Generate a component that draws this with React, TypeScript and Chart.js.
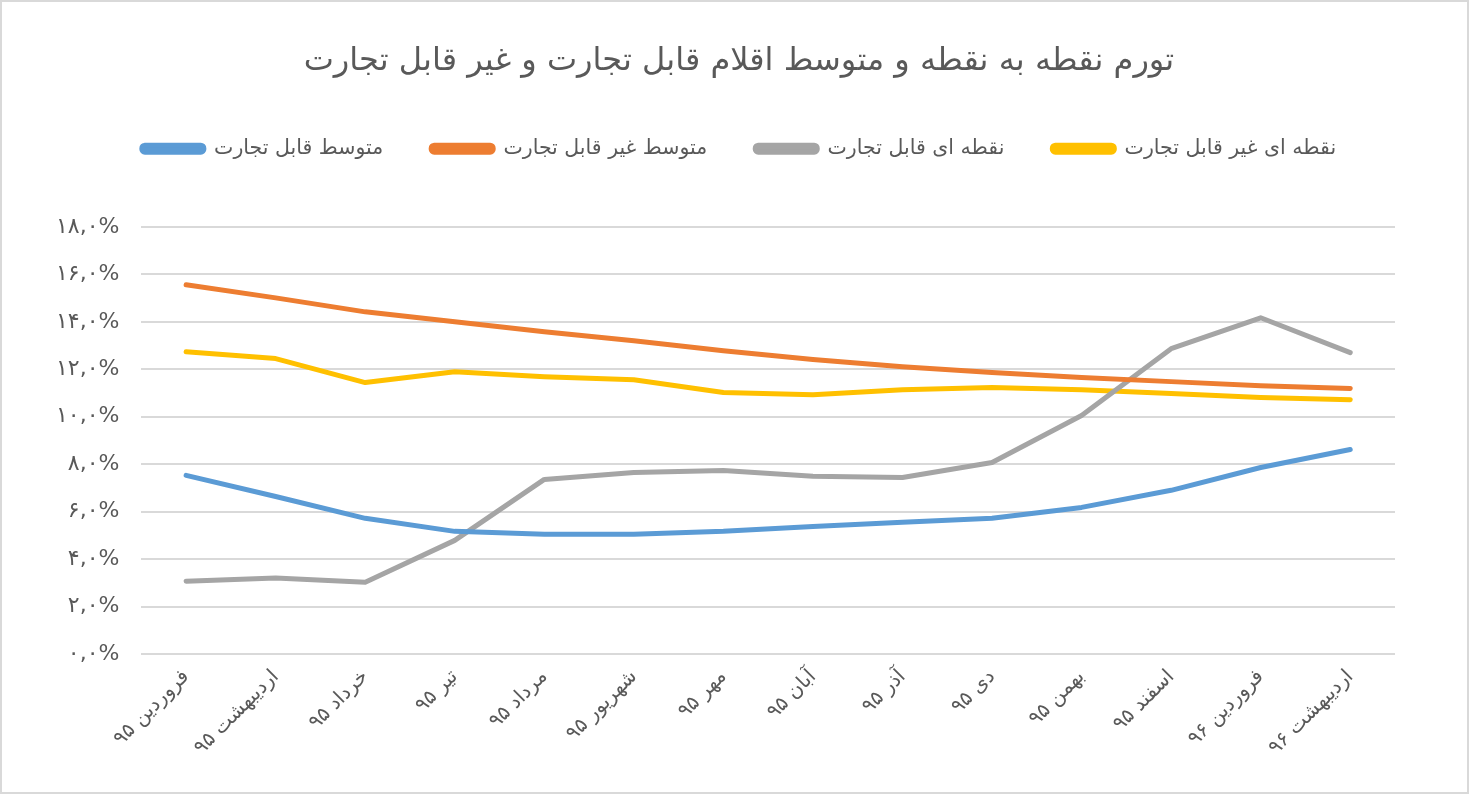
import React, { useEffect, useRef } from "react";
import { Chart, registerables } from "chart.js";

Chart.register(...registerables);

const categories = [
  "فروردین ۹۵",
  "اردیبهشت ۹۵",
  "خرداد ۹۵",
  "تیر ۹۵",
  "مرداد ۹۵",
  "شهریور ۹۵",
  "مهر ۹۵",
  "آبان ۹۵",
  "آذر ۹۵",
  "دی ۹۵",
  "بهمن ۹۵",
  "اسفند ۹۵",
  "فروردین ۹۶",
  "اردیبهشت ۹۶",
];

const avgTradable = [7.53, 6.64, 5.72, 5.17, 5.05, 5.05, 5.17, 5.38, 5.55, 5.72, 6.18, 6.9, 7.86, 8.62];
const avgNonTradable = [15.56, 15.01, 14.42, 14.0, 13.58, 13.2, 12.78, 12.41, 12.11, 11.86, 11.65, 11.48, 11.31, 11.19];
const p2pTradable = [3.07, 3.2, 3.03, 4.79, 7.36, 7.65, 7.74, 7.49, 7.44, 8.07, 10.05, 12.87, 14.17, 12.7];
const p2pNonTradable = [12.74, 12.45, 11.44, 11.9, 11.69, 11.56, 11.02, 10.93, 11.14, 11.23, 11.14, 10.98, 10.81, 10.72];

const seriesNames = [
  "متوسط قابل تجارت",
  "متوسط غیر قابل تجارت",
  "نقطه ای قابل تجارت",
  "نقطه ای غیر قابل تجارت",
];

const yTickLabels = ["۰,۰%", "۲,۰%", "۴,۰%", "۶,۰%", "۸,۰%", "۱۰,۰%", "۱۲,۰%", "۱۴,۰%", "۱۶,۰%", "۱۸,۰%"];

const title = "تورم نقطه به نقطه و متوسط اقلام قابل تجارت و غیر قابل تجارت";

const FONT = "'DejaVu Sans', 'Noto Sans', sans-serif";
const TEXT = "#595959";

const legendSpacer = {
  id: "legendSpacer",
  beforeInit(chart: any) {
    const legend = chart.legend;
    if (!legend) return;
    const origFit = legend.fit;
    legend.fit = function () {
      origFit.call(this);
      this.height += 58;
    };
  },
};

export default function App() {
  const ref = useRef<HTMLCanvasElement | null>(null);

  useEffect(() => {
    document.body.style.margin = "0";
    if (!ref.current) return;
    const colors = ["#5B9BD5", "#ED7D31", "#A5A5A5", "#FFC000"];
    const values = [avgTradable, avgNonTradable, p2pTradable, p2pNonTradable];
    const chart = new Chart(ref.current, {
      type: "line",
      data: {
        labels: categories,
        datasets: values.map((v, i) => ({
          label: seriesNames[i],
          data: v,
          borderColor: colors[i],
          backgroundColor: colors[i],
          borderWidth: 5,
          pointRadius: 0,
          tension: 0,
          borderCapStyle: "round" as const,
          borderJoinStyle: "round" as const,
        })),
      },
      plugins: [legendSpacer],
      options: {
        animation: false,
        responsive: false,
        maintainAspectRatio: false,
        layout: { padding: { left: 32, right: 23, top: 0, bottom: 29 } },
        plugins: {
          title: {
            display: true,
            text: title,
            color: TEXT,
            font: { family: FONT, size: 32, weight: "normal" },
            padding: { top: 40, bottom: 10 },
          },
          legend: {
            display: true,
            position: "top",
            labels: {
              color: TEXT,
              font: { family: FONT, size: 20.5 },
              boxWidth: 62,
              boxHeight: 7,
              useBorderRadius: true,
              borderRadius: 3,
              padding: 48,
            },
          },
          tooltip: { enabled: false },
        },
        scales: {
          x: {
            offset: true,
            grid: { display: false },
            border: { display: false },
            ticks: {
              color: TEXT,
              font: { family: FONT, size: 20 },
              minRotation: 45,
              maxRotation: 45,
              autoSkip: false,
            },
          },
          y: {
            min: 0,
            max: 18,
            grid: { color: "#D9D9D9", lineWidth: 2, drawTicks: false },
            border: { display: false },
            ticks: {
              stepSize: 2,
              padding: 22,
              color: TEXT,
              font: { family: FONT, size: 22 },
              callback: (_v: any, idx: number) => yTickLabels[idx],
            },
          },
          yRight: {
            position: "right",
            min: 0,
            max: 18,
            grid: { display: false },
            border: { display: false },
            ticks: { display: false },
            afterFit: (s: any) => {
              s.width = 49;
            },
          },
        },
      },
    });
    return () => chart.destroy();
  }, []);

  return (
    <div style={{ width: 1469, height: 794, boxSizing: "border-box", border: "2px solid #D9D9D9", background: "#fff" }}>
      <canvas ref={ref} width={1465} height={790} style={{ display: "block" }} />
    </div>
  );
}
